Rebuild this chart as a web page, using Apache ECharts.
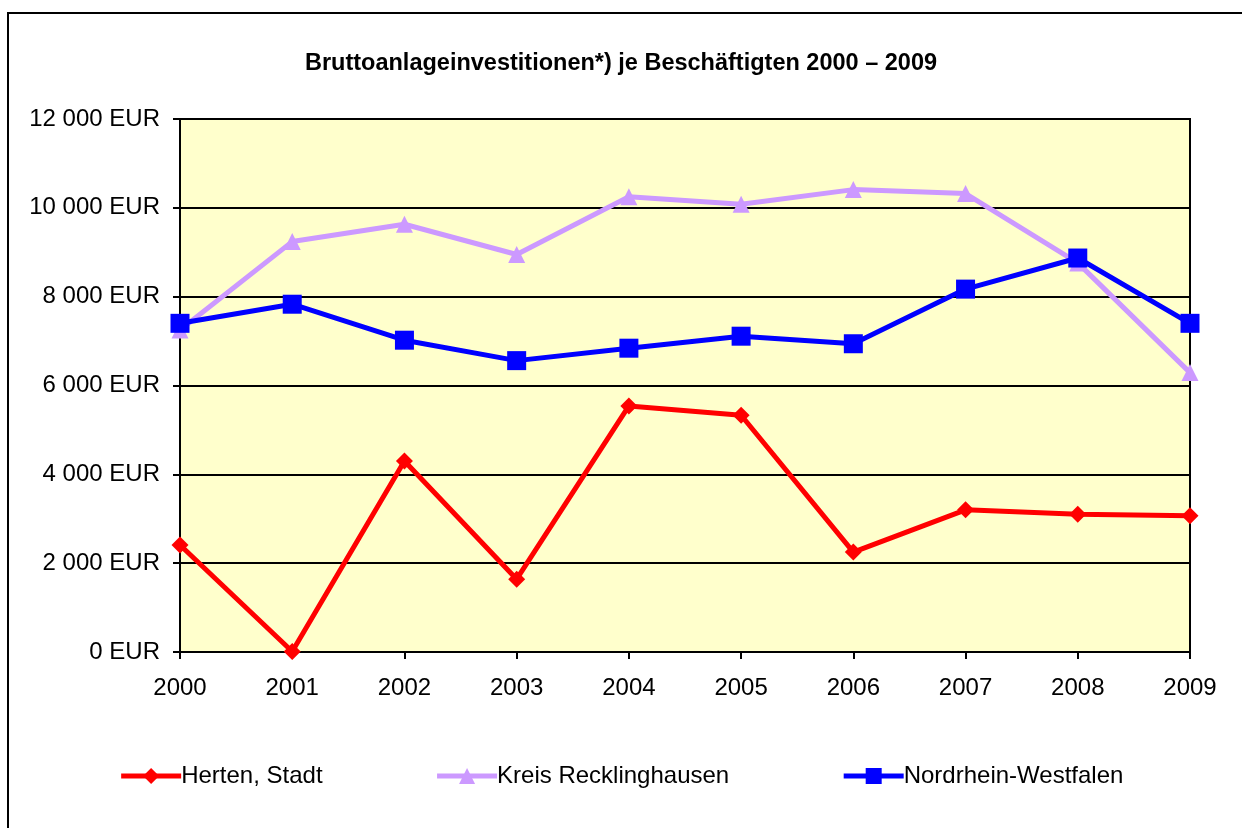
<!DOCTYPE html>
<html><head><meta charset="utf-8">
<script src="https://cdn.jsdelivr.net/npm/echarts@6/dist/echarts.min.js"></script>
<style>html,body{margin:0;padding:0;background:#fff}#c{width:1242px;height:828px}</style>
</head><body><div id="c"></div>
<script>
const years = ['2000','2001','2002','2003','2004','2005','2006','2007','2008','2009'];
const herten = [2410, 10, 4300, 1640, 5540, 5330, 2250, 3200, 3100, 3070];
const kreis = [7250, 9240, 9630, 8950, 10250, 10080, 10410, 10320, 8760, 6290];
const nrw = [7400, 7830, 7020, 6560, 6840, 7110, 6940, 8170, 8870, 7400];
const seriesNames = ['Herten, Stadt', 'Kreis Recklinghausen', 'Nordrhein-Westfalen'];
const font = 'Arial, "Liberation Sans", sans-serif';

const chart = echarts.init(document.getElementById('c'));
chart.setOption({
  animation: false,
  backgroundColor: '#fff',
  title: {
    text: 'Bruttoanlageinvestitionen*) je Beschäftigten 2000 – 2009',
    left: 'center', top: 47,
    textStyle: {fontFamily: font, fontSize: 23.5, fontWeight: 'bold', color: '#000'}
  },
  graphic: [{
    type: 'rect', shape: {x: 8, y: 13, width: 1300, height: 900},
    style: {fill: 'none', stroke: '#000', lineWidth: 2}, z: 100
  }],
  grid: {left: 180, right: 52, top: 119, bottom: 176, show: true,
    backgroundColor: '#FFFFCC', borderColor: '#000', borderWidth: 2},
  legend: {
    top: 759, left: 'center', itemGap: 112, itemWidth: 60, itemHeight: 20,
    lineStyle: {width: 5},
    textStyle: {fontFamily: font, fontSize: 24, color: '#000', padding: [0,0,0,-5]},
    data: seriesNames
  },
  xAxis: {
    type: 'category', data: years, boundaryGap: false,
    axisLine: {lineStyle: {color: '#000', width: 2}},
    axisTick: {show: true, inside: false, length: 7, alignWithLabel: true, lineStyle: {color: '#000', width: 2}},
    axisLabel: {fontFamily: font, fontSize: 24, color: '#000', margin: 24}
  },
  yAxis: {
    type: 'value', min: 0, max: 12000, interval: 2000,
    axisLine: {show: true, lineStyle: {color: '#000', width: 2}},
    axisTick: {show: true, length: 7, lineStyle: {color: '#000', width: 2}},
    splitLine: {lineStyle: {color: '#000', width: 2}},
    axisLabel: {fontFamily: font, fontSize: 24, color: '#000', margin: 20,
      formatter: v => (v >= 1000 ? Math.floor(v/1000) + ' ' + String(v%1000).padStart(3,'0') : v) + ' EUR'}
  },
  series: [
    {name: seriesNames[0], type: 'line', data: herten, symbol: 'diamond', symbolSize: 17,
      lineStyle: {color: '#FF0000', width: 5}, itemStyle: {color: '#FF0000'}, z: 3},
    {name: seriesNames[1], type: 'line', data: kreis, symbol: 'triangle', symbolSize: 17,
      lineStyle: {color: '#CC99FF', width: 5}, itemStyle: {color: '#CC99FF'}, z: 2},
    {name: seriesNames[2], type: 'line', data: nrw, symbol: 'rect', symbolSize: 19,
      lineStyle: {color: '#0000FF', width: 5}, itemStyle: {color: '#0000FF'}, z: 4}
  ]
});
</script></body></html>
